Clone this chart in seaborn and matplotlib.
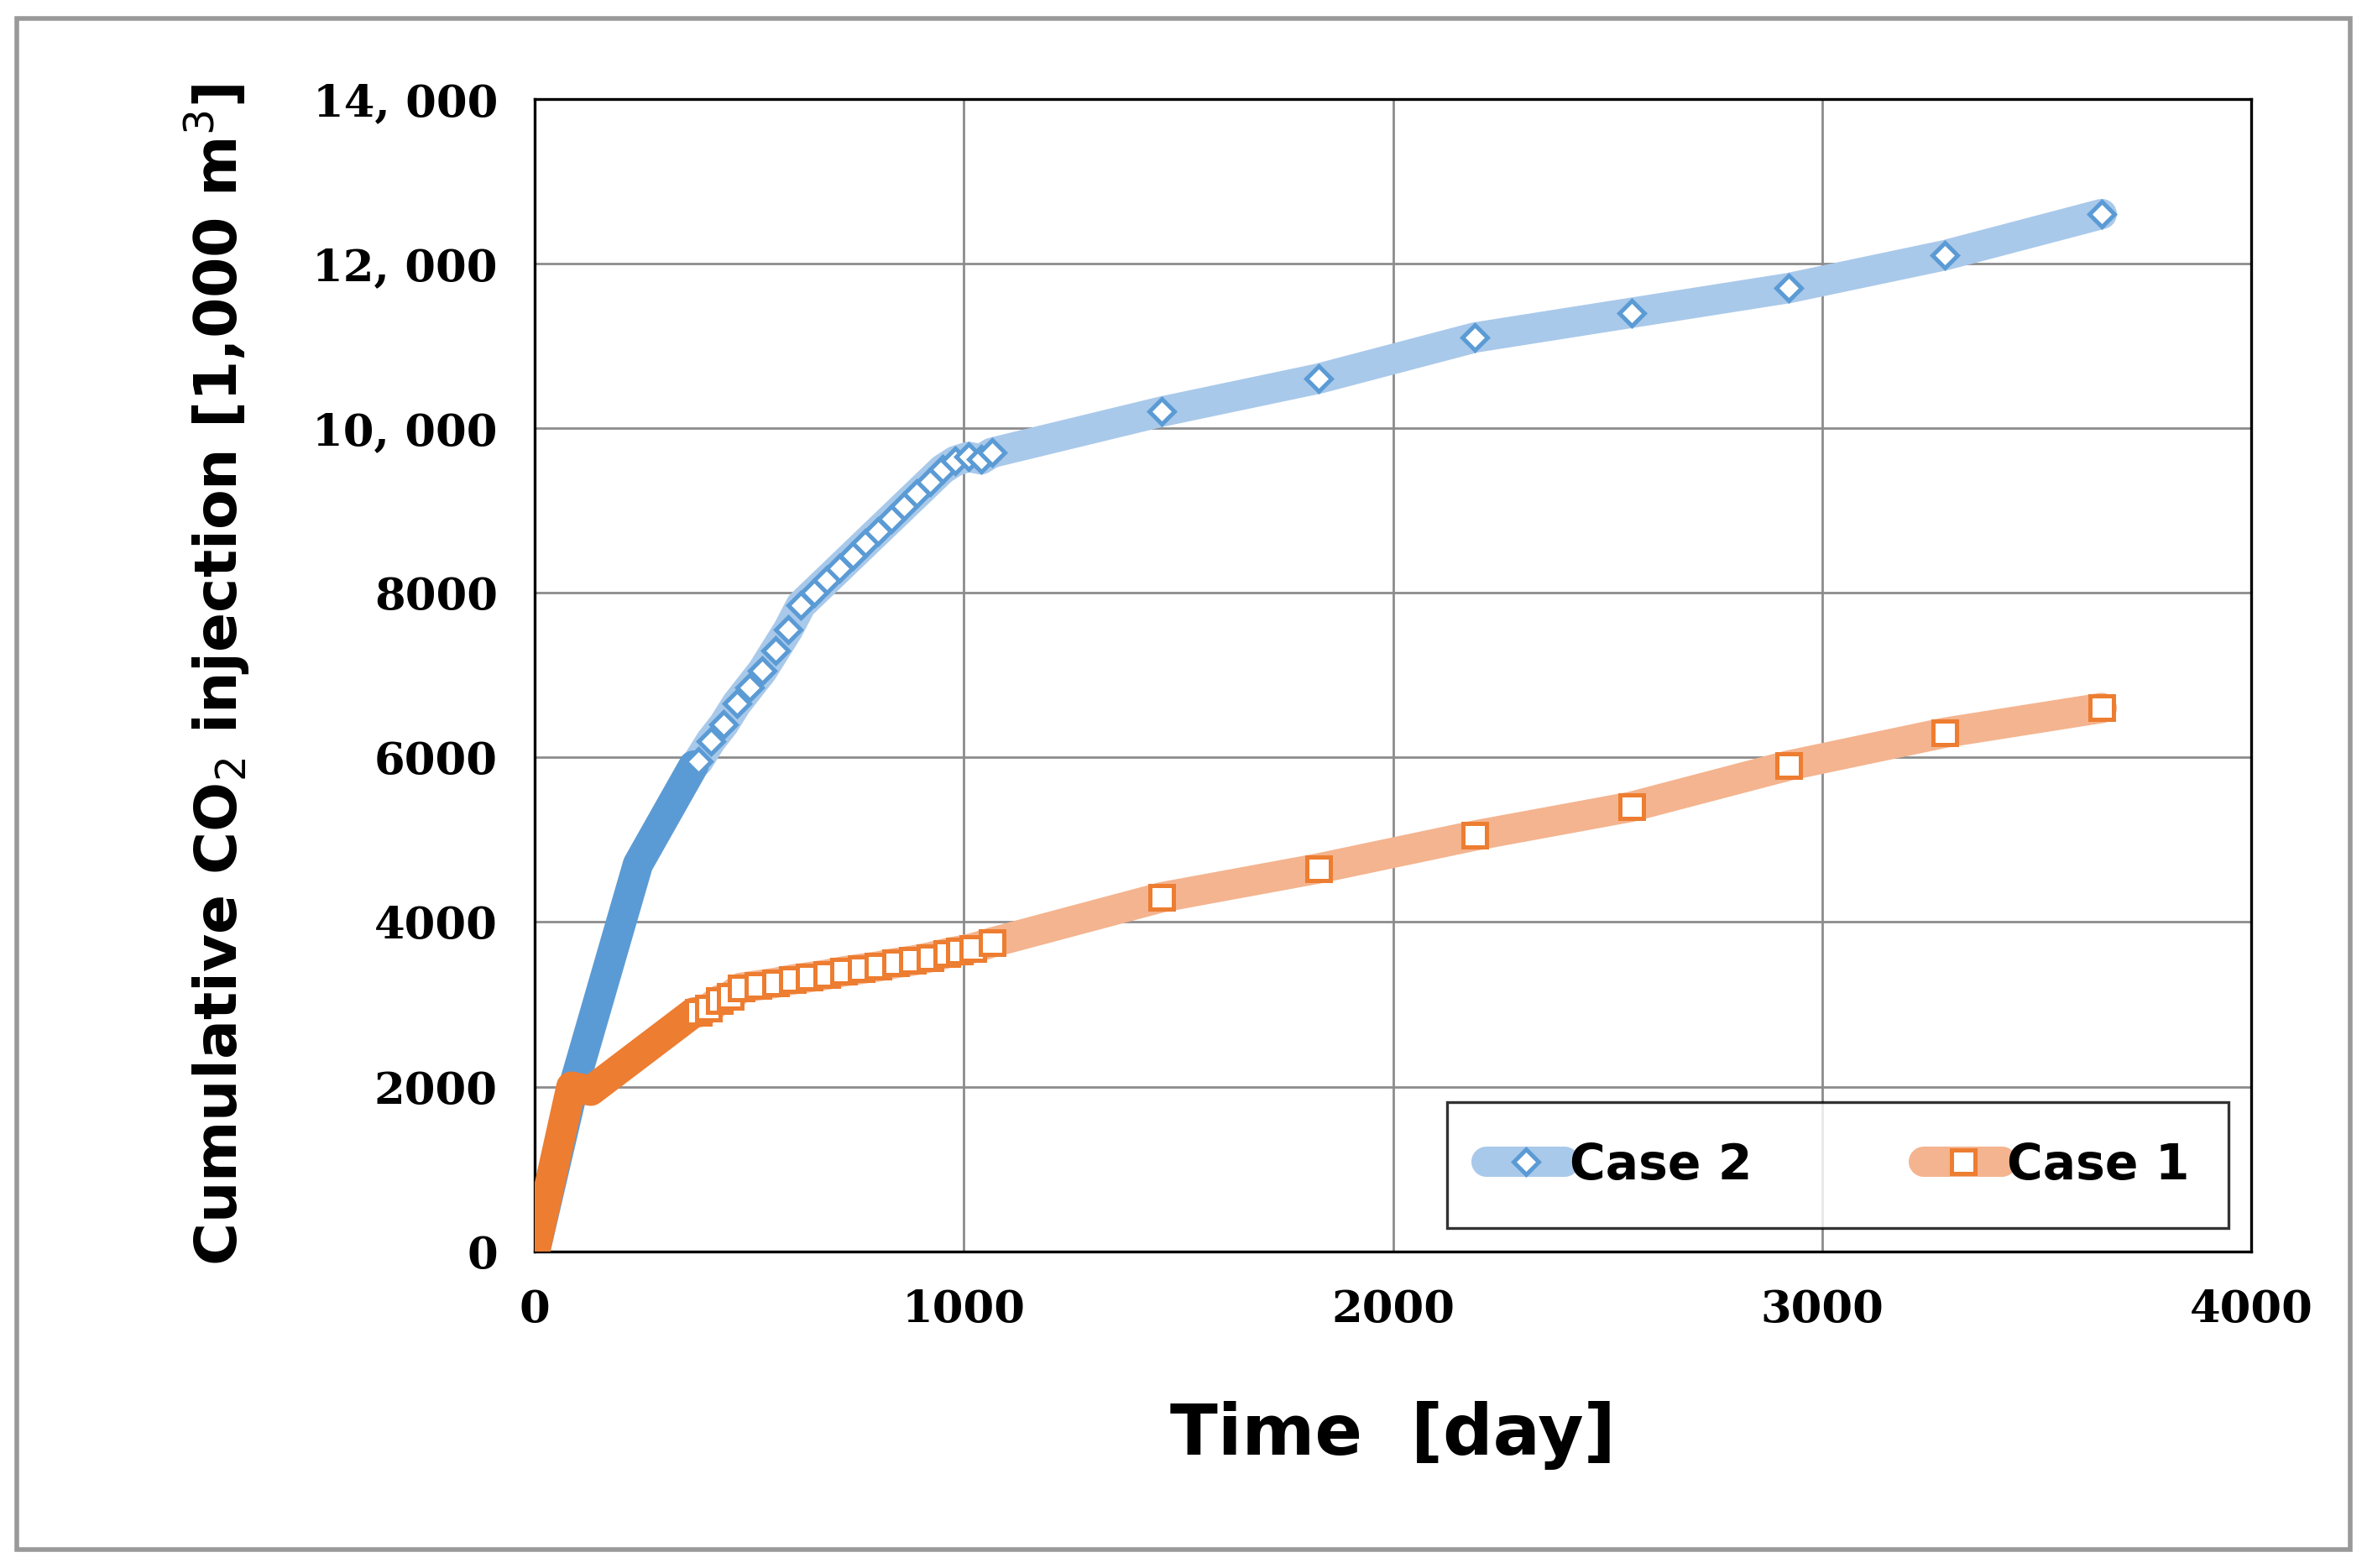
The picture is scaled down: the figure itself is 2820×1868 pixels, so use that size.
import matplotlib
matplotlib.use("Agg")
import matplotlib.pyplot as plt
import matplotlib.ticker as mticker
from matplotlib.lines import Line2D
import seaborn as sns

# early part (no markers, dark line)
case2_early_t = [0, 90, 240, 370]
case2_early_v = [0, 2000, 4700, 5900]
case1_early_t = [0, 85, 130, 370]
case1_early_v = [0, 2000, 1950, 2900]

# marked part
case2_t = [380, 410, 440, 470, 500, 530, 560, 590, 620, 650, 680, 710, 740, 770, 800, 830,
           860, 890, 920, 950, 980, 1010, 1040, 1065, 1461, 1826, 2191, 2556, 2922, 3287, 3652]
case2_v = [5950, 6200, 6400, 6650, 6850, 7050, 7300, 7550, 7850, 8000, 8150, 8300, 8450, 8600,
           8750, 8900, 9050, 9200, 9350, 9500, 9600, 9650, 9620, 9700, 10200, 10600, 11100,
           11400, 11700, 12100, 12600]
case1_t = [380, 405, 430, 455, 480, 520, 560, 600, 640, 680, 720, 760, 800, 840, 880, 920,
           960, 990, 1020, 1065, 1461, 1826, 2191, 2556, 2922, 3287, 3652]
case1_v = [2900, 2950, 3050, 3100, 3200, 3230, 3260, 3300, 3330, 3360, 3400, 3430, 3460, 3500,
           3530, 3570, 3620, 3650, 3680, 3750, 4300, 4650, 5050, 5400, 5900, 6300, 6600]

c2_dark, c2_light = "#5B9BD5", "#A9C9EA"
c1_dark, c1_light = "#ED7D31", "#F4B48F"

sns.set_style("white")
plt.rcParams["text.color"] = "black"
plt.rcParams["axes.labelcolor"] = "black"
plt.rcParams["xtick.color"] = "black"
plt.rcParams["ytick.color"] = "black"
fig = plt.figure(figsize=(14.1, 9.34), dpi=200)
ax = fig.add_axes([0.226, 0.202, 0.725, 0.735])

lw = 13
sns.lineplot(x=case2_t, y=case2_v, ax=ax, color=c2_light, lw=lw, sort=False, zorder=3)
sns.lineplot(x=case2_early_t, y=case2_early_v, ax=ax, color=c2_dark, lw=lw, sort=False, zorder=3)
sns.lineplot(x=case1_t, y=case1_v, ax=ax, color=c1_light, lw=lw, sort=False, zorder=3)
sns.lineplot(x=case1_early_t, y=case1_early_v, ax=ax, color=c1_dark, lw=lw, sort=False, zorder=3)
ax.plot(case2_t, case2_v, ls="none", marker="D", ms=7.5, mfc="white", mec=c2_dark, mew=1.8, zorder=4)
ax.plot(case1_t, case1_v, ls="none", marker="s", ms=10, mfc="white", mec=c1_dark, mew=1.8, zorder=4)

ax.set_xlim(0, 4000)
ax.set_ylim(0, 14000)
ax.set_xticks([0, 1000, 2000, 3000, 4000])
ax.set_yticks(range(0, 14001, 2000))
ax.yaxis.set_major_formatter(mticker.FuncFormatter(
    lambda v, p: f"{int(v):,}".replace(",", ", ") if v >= 10000 else f"{int(v)}"))
ax.grid(True, color="#8c8c8c", lw=1)
for s in ax.spines.values():
    s.set_color("black")
    s.set_linewidth(1.2)
ax.tick_params(length=0, pad=16)
for lab in ax.get_xticklabels() + ax.get_yticklabels():
    lab.set_fontfamily("DejaVu Serif")
    lab.set_fontweight("bold")
    lab.set_fontsize(19)

ax.set_xlabel("Time  [day]", fontsize=30, fontweight="bold", labelpad=30)
ax.set_ylabel("Cumulative CO$_2$ injection [1,000 m$^3$]", fontsize=25, fontweight="bold", labelpad=26)

handles = [
    Line2D([], [], color=c2_light, lw=lw, marker="D", ms=7.5, mfc="white", mec=c2_dark, mew=1.8),
    Line2D([], [], color=c1_light, lw=lw, marker="s", ms=10, mfc="white", mec=c1_dark, mew=1.8),
]
leg = ax.legend(handles, ["Case 2", "Case 1"], loc="lower right", ncol=2,
                bbox_to_anchor=(0.987, 0.02), prop={"size": 21, "weight": "bold"},
                frameon=True, fancybox=False, edgecolor="black", handlelength=1.6,
                handletextpad=0.1, columnspacing=3.5, borderpad=0.8, borderaxespad=0)
leg.get_frame().set_linewidth(1.2)
leg.set_zorder(5)

fig.patches.append(plt.Rectangle((0.007, 0.012), 0.986, 0.976, transform=fig.transFigure,
                                 fill=False, edgecolor="#999999", lw=2))
fig.savefig("out.png", dpi=200)
